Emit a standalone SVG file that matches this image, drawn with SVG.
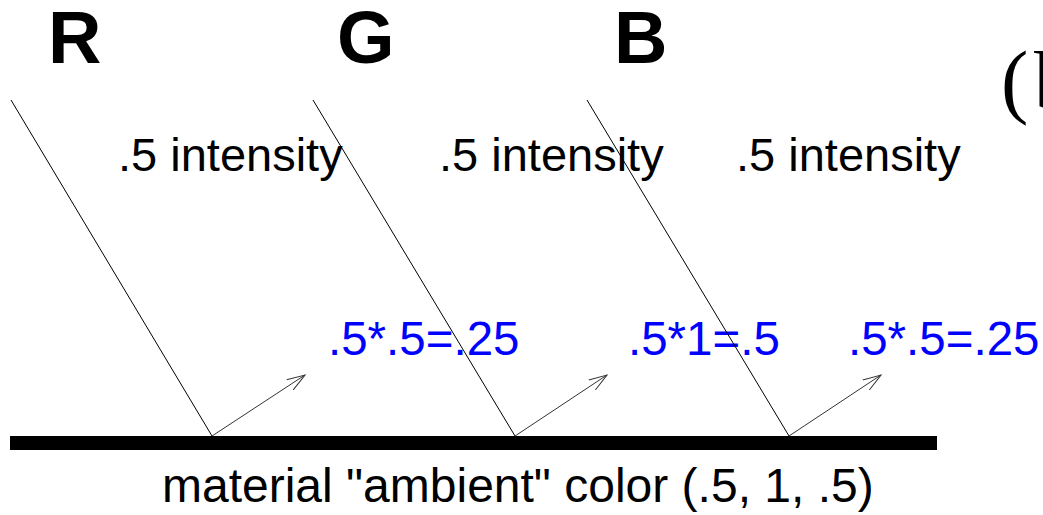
<svg xmlns="http://www.w3.org/2000/svg" width="1043" height="515" viewBox="0 0 1043 515">
<style>
.lbl{font-family:"Liberation Sans",Arial,sans-serif;font-size:74px;font-weight:bold;fill:#000}
.int{font-family:"Liberation Sans",Arial,sans-serif;font-size:47px;fill:#000}
.res{font-family:"Liberation Sans",Arial,sans-serif;font-size:47.5px;fill:#0000ff}
.cap{font-family:"Liberation Sans",Arial,sans-serif;font-size:48px;fill:#000}
.ray{stroke:#000;stroke-width:1;fill:none}
.refl{stroke:#333;stroke-width:1;fill:none;marker-end:url(#ah)}
</style>
<defs>
<marker id="ah" viewBox="0 0 20 20" refX="18" refY="10" markerWidth="20" markerHeight="20" markerUnits="userSpaceOnUse" orient="auto">
<path d="M0,4 L18,10 L0,16" fill="none" stroke="#333" stroke-width="1"/>
</marker>
</defs>
<rect width="1043" height="515" fill="#fff"/>
<g id="surface">
<rect x="10" y="436" width="927" height="14" fill="#000"/>
<text class="cap" x="162" y="502">material "ambient" color (.5, 1, .5)</text>
</g>
<g id="node-R">
<text class="lbl" x="48" y="63">R</text>
<text class="int" x="118" y="171">.5 intensity</text>
<text class="res" x="328" y="355">.5*.5=.25</text>
</g>
<g id="node-G">
<text class="lbl" x="337" y="63">G</text>
<text class="int" x="439" y="171">.5 intensity</text>
<text class="res" x="628" y="355">.5*1=.5</text>
</g>
<g id="node-B">
<text class="lbl" x="614" y="63">B</text>
<text class="int" x="736" y="171">.5 intensity</text>
<text class="res" x="848" y="355">.5*.5=.25</text>
</g>
<g id="label-b">
<text y="108" style="font-family:'Liberation Serif','Times New Roman',serif;font-size:82px;fill:#000"><tspan x="1001">(</tspan><tspan x="1034">b)</tspan></text>
</g>
<g id="connectors">
<line class="ray" x1="11" y1="100" x2="212" y2="436"/>
<line class="ray" x1="313" y1="100" x2="515" y2="436"/>
<line class="ray" x1="587" y1="100" x2="789" y2="436"/>
<line class="refl" x1="212" y1="436" x2="305" y2="375"/>
<line class="refl" x1="515" y1="436" x2="607" y2="375"/>
<line class="refl" x1="789" y1="436" x2="881" y2="375"/>
</g>
</svg>
